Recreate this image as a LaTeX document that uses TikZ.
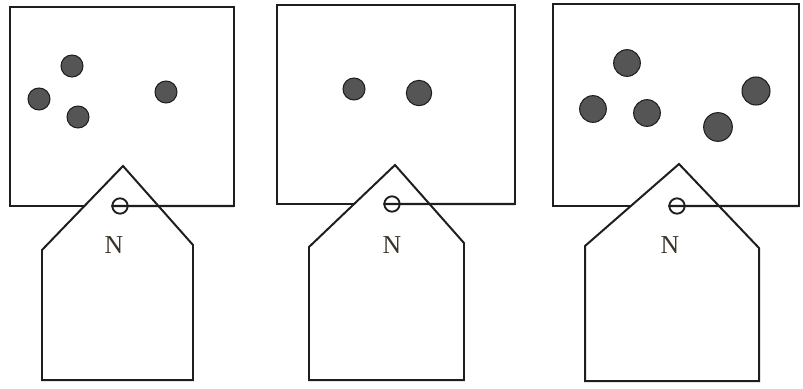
\documentclass[tikz,border=0pt]{standalone}
\usepackage{fontspec}
\newfontfamily\tagfont{Liberation Serif}
\usetikzlibrary{positioning}
\definecolor{ink}{HTML}{1E1E1E}
\definecolor{seedgray}{HTML}{555555}
\definecolor{tagink}{HTML}{3A3228}
\tikzset{
  tray/.style={draw=ink, line width=2.2pt, inner sep=0pt, outer sep=0pt, anchor=north west},
  seed/.style={circle, fill=seedgray, draw=ink, line width=0.9pt, inner sep=0pt, minimum size=0.66cm},
  bigseed/.style={seed, minimum size=0.8cm},
  tag/.style={draw=ink, fill=white, line width=1.7pt, line join=miter},
  hole/.style={circle, draw=ink, line width=1.6pt, inner sep=0pt, minimum size=0.46cm},
  string/.style={draw=ink, line width=1.9pt},
  tagtext/.style={text=tagink, font=\fontsize{22}{26}\selectfont\tagfont}
}

\begin{document}
\begin{tikzpicture}[x=0.03cm, y=-0.03cm]
  \useasboundingbox (0,0) rectangle (803,389);
  % trays
  \node[tray, minimum width=6.72cm, minimum height=5.97cm] (box1) at (10,7) {};
  \node[tray, minimum width=7.14cm, minimum height=5.97cm] (box2) at (277,5) {};
  \node[tray, minimum width=7.38cm, minimum height=6.06cm] (box3) at (553,4) {};
  % seeds
  \node[seed] (s11) at (72,66) {};
  \node[seed] (s12) at (39,99) {};
  \node[seed] (s13) at (78,117) {};
  \node[seed] (s14) at (166,92) {};
  \node[seed] (s21) at (354,89) {};
  \node[seed, minimum size=0.76cm] (s22) at (419,93) {};
  \node[bigseed] (s31) at (627,63) {};
  \node[bigseed] (s32) at (593,109) {};
  \node[bigseed] (s33) at (647,113) {};
  \node[bigseed, minimum size=0.86cm] (s34) at (718,127) {};
  \node[bigseed, minimum size=0.84cm] (s35) at (756,91) {};
  % tags
  \draw[tag] (42,380) -- (42,250) -- (123,166) -- (193,245) -- (193,380) -- cycle;
  \draw[tag] (309,380) -- (309,247) -- (395,165) -- (464,243) -- (464,380) -- cycle;
  \draw[tag] (585,381) -- (585,246) -- (679,164) -- (759,248) -- (759,381) -- cycle;
  % holes and strings
  \node[hole] (hole1) at (120,206) {};
  \node[hole] (hole2) at (392,204) {};
  \node[hole] (hole3) at (677,206) {};
  \draw[string] (hole1.west) -- (box1.south east);
  \draw[string] (hole2.west) -- (box2.south east);
  \draw[string] (hole3.west) -- (box3.south east);
  % labels
  \node[tagtext] (lab1) at (114,245) {N};
  \node[tagtext] (lab2) at (392,245) {N};
  \node[tagtext] (lab3) at (670,245) {N};
\end{tikzpicture}
\end{document}
